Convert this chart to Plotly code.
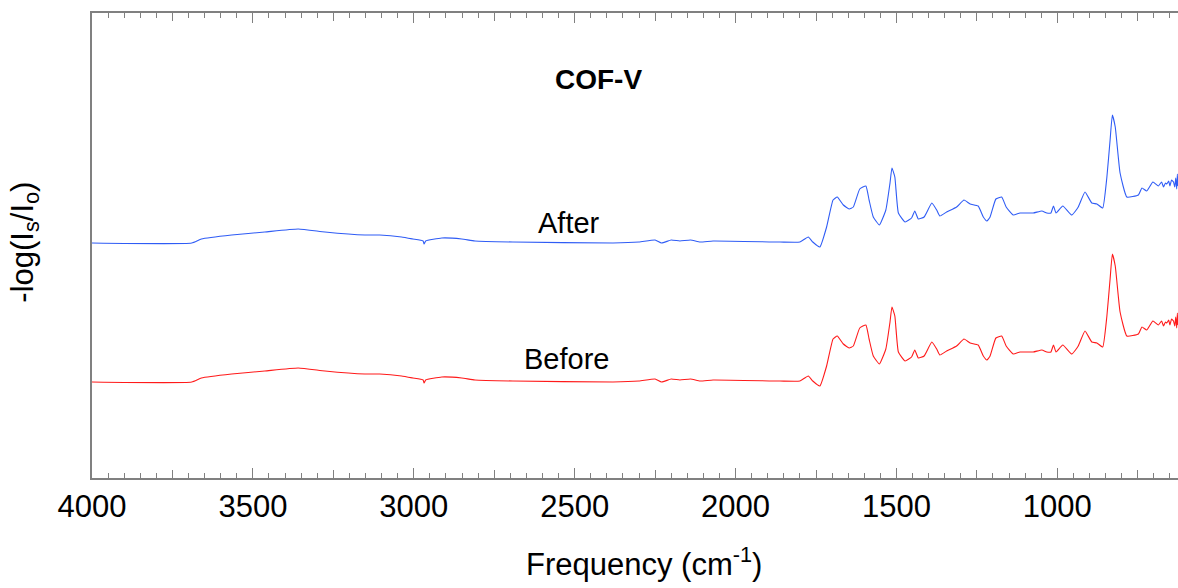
import plotly.graph_objects as go

# Wavenumber grid (cm^-1) and absorbance of the two spectra (offset stacked)
wavenumber = [
    4000, 3690, 3660, 3566, 3463, 3359, 3276, 3152, 3106, 3038, 3003, 2971, 2968, 2963,
    2913, 2851, 2810, 2692, 2381, 2300, 2250, 2230, 2200, 2173, 2140, 2110, 2070, 1862,
    1800, 1774, 1760, 1738, 1717, 1697, 1684, 1665, 1647, 1634, 1614, 1595, 1585, 1572,
    1553, 1533, 1520, 1514, 1505, 1494, 1473, 1453, 1443, 1432, 1414, 1390, 1375, 1365,
    1344, 1313, 1290, 1271, 1246, 1230, 1219, 1209, 1191, 1173, 1159, 1137, 1116, 1075,
    1048, 1033, 1020, 1012, 1004, 983, 955, 935, 914, 893, 877, 859, 846, 836, 829, 820,
    805, 784, 748, 737, 722, 703, 686, 676, 670, 664, 660, 654, 650, 645, 639, 635, 632,
    629, 627, 625,
]

after = [
    2.35, 2.35, 2.39, 2.43, 2.46, 2.49, 2.46, 2.43, 2.43, 2.41, 2.39, 2.37, 2.34, 2.37,
    2.40, 2.39, 2.37, 2.36, 2.35, 2.36, 2.38, 2.35, 2.38, 2.37, 2.38, 2.36, 2.37, 2.36,
    2.36, 2.41, 2.36, 2.31, 2.51, 2.78, 2.81, 2.73, 2.69, 2.71, 2.89, 2.92, 2.78, 2.61,
    2.53, 2.68, 2.95, 3.10, 3.01, 2.65, 2.56, 2.60, 2.67, 2.59, 2.61, 2.75, 2.68, 2.62,
    2.66, 2.71, 2.78, 2.74, 2.72, 2.61, 2.57, 2.61, 2.79, 2.81, 2.71, 2.63, 2.65, 2.65,
    2.67, 2.65, 2.65, 2.72, 2.65, 2.72, 2.63, 2.71, 2.86, 2.75, 2.74, 2.70, 3.01, 3.38,
    3.63, 3.51, 3.05, 2.81, 2.83, 2.90, 2.87, 2.96, 2.92, 2.96, 2.91, 2.95, 2.94, 2.97,
    2.92, 2.98, 2.96, 2.91, 3.00, 2.89, 3.04, 2.92,
]

before = [
    0.96, 0.96, 1.00, 1.04, 1.07, 1.10, 1.07, 1.04, 1.04, 1.02, 1.00, 0.98, 0.95, 0.98,
    1.01, 1.00, 0.98, 0.97, 0.96, 0.97, 0.99, 0.96, 0.99, 0.98, 0.99, 0.97, 0.98, 0.97,
    0.97, 1.02, 0.97, 0.92, 1.12, 1.39, 1.42, 1.34, 1.30, 1.32, 1.50, 1.53, 1.39, 1.22,
    1.14, 1.29, 1.56, 1.71, 1.62, 1.26, 1.17, 1.21, 1.28, 1.20, 1.22, 1.36, 1.29, 1.23,
    1.27, 1.32, 1.39, 1.35, 1.33, 1.22, 1.18, 1.22, 1.40, 1.42, 1.32, 1.24, 1.26, 1.26,
    1.28, 1.26, 1.26, 1.33, 1.26, 1.33, 1.24, 1.32, 1.47, 1.36, 1.35, 1.31, 1.62, 1.99,
    2.24, 2.12, 1.66, 1.42, 1.44, 1.51, 1.48, 1.57, 1.53, 1.57, 1.52, 1.56, 1.55, 1.58,
    1.53, 1.59, 1.57, 1.52, 1.61, 1.50, 1.65, 1.53,
]

major_ticks = [4000, 3500, 3000, 2500, 2000, 1500, 1000]
mid_ticks = [3750, 3250, 2750, 2250, 1750, 1250, 750]

FONT = "Arial, Liberation Sans, sans-serif"
AXIS_GREY = "#808080"
X_RANGE = [4000, 625]

fig = go.Figure()
fig.add_trace(go.Scatter(x=wavenumber, y=after, mode="lines",
                         line=dict(color="#2f5cf5", width=1.1, shape="spline", smoothing=0.4),
                         showlegend=False))
fig.add_trace(go.Scatter(x=wavenumber, y=before, mode="lines",
                         line=dict(color="#ff1a1a", width=1.1, shape="spline", smoothing=0.4),
                         showlegend=False))

fig.update_layout(
    width=1178, height=588,
    margin=dict(l=92, r=0, t=13, b=110),
    paper_bgcolor="white", plot_bgcolor="white",
    font=dict(family=FONT, color="black"),
    xaxis=dict(
        range=X_RANGE, tickvals=major_ticks,
        ticks="inside", ticklen=10, tickwidth=1.3, tickcolor=AXIS_GREY,
        showline=True, linecolor=AXIS_GREY, linewidth=1.5, mirror="ticks",
        showgrid=False, zeroline=False,
        tickfont=dict(size=31, family=FONT, color="black"),
        minor=dict(dtick=50, ticks="inside", ticklen=5, tickwidth=1, tickcolor=AXIS_GREY,
                   showgrid=False),
    ),
    xaxis2=dict(
        range=X_RANGE, overlaying="x", anchor="y", side="bottom",
        tickvals=mid_ticks, ticks="inside", ticklen=8, tickwidth=1, tickcolor=AXIS_GREY,
        showticklabels=False, showline=False, mirror="ticks",
        showgrid=False, zeroline=False,
    ),
    yaxis=dict(
        range=[0, 4.65], showticklabels=False, ticks="",
        showline=True, linecolor=AXIS_GREY, linewidth=1.5, mirror=False,
        showgrid=False, zeroline=False,
    ),
)

# invisible trace to activate the mid-tick axis
fig.add_trace(go.Scatter(x=[4000], y=[0], xaxis="x2", mode="markers",
                         marker=dict(opacity=0), showlegend=False, hoverinfo="skip"))

centered = dict(xref="paper", yref="paper", xanchor="center", yanchor="middle",
                showarrow=False)
fig.add_annotation(text="<b>COF-V</b>", x=0.466, y=0.856,
                   font=dict(size=28, family=FONT, color="black"), **centered)
fig.add_annotation(text="After", x=0.439, y=0.549,
                   font=dict(size=29, family=FONT, color="black"), **centered)
fig.add_annotation(text="Before", x=0.437, y=0.255,
                   font=dict(size=29, family=FONT, color="black"), **centered)
fig.add_annotation(text="Frequency (cm<sup>-1</sup>)", x=0.508, y=-0.18,
                   font=dict(size=31, family=FONT, color="black"), **centered)
fig.add_annotation(text="-log(I<sub>s</sub>/I<sub>o</sub>)", x=-0.062, y=0.5075,
                   textangle=-90, font=dict(size=31, family=FONT, color="black"), **centered)

fig.write_html("out.html")
